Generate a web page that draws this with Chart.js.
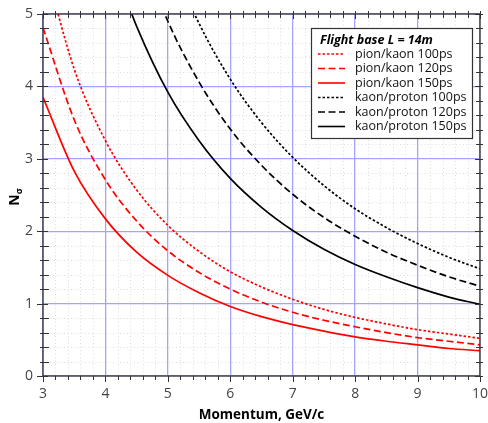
<!DOCTYPE html>
<html>
<head>
<meta charset="utf-8">
<script src="https://cdn.jsdelivr.net/npm/chart.js@4.4.0/dist/chart.umd.min.js"></script>
<style>
  html, body { margin: 0; padding: 0; background: #fff; }
  #wrap { width: 488px; height: 423px; position: relative; }
</style>
</head>
<body>
<div id="wrap"><canvas id="nsigmaChart"></canvas></div>
<script>
// momentum points (GeV/c)
const momentumPiK = [3, 3.5, 4, 4.5, 5, 5.5, 6, 6.5, 7, 7.5, 8, 8.5, 9, 9.5, 10];
const momentumKP = [4.25, 4.5, 5, 5.5, 6, 6.5, 7, 7.5, 8, 8.5, 9, 9.5, 10];

// N_sigma values, pion/kaon
const piK100 = [5.78, 4.24, 3.25, 2.57, 2.08, 1.72, 1.44, 1.23, 1.06, 0.92, 0.81, 0.72, 0.64, 0.58, 0.52];
const piK120 = [4.81, 3.54, 2.71, 2.14, 1.73, 1.43, 1.20, 1.02, 0.88, 0.77, 0.68, 0.60, 0.53, 0.48, 0.43];
const piK150 = [3.85, 2.83, 2.17, 1.71, 1.39, 1.15, 0.96, 0.82, 0.71, 0.62, 0.54, 0.48, 0.43, 0.38, 0.35];

// N_sigma values, kaon/proton
const kP100 = [8.10, 7.25, 5.88, 4.87, 4.10, 3.50, 3.02, 2.63, 2.31, 2.05, 1.83, 1.64, 1.48];
const kP120 = [6.75, 6.04, 4.90, 4.06, 3.41, 2.91, 2.51, 2.19, 1.93, 1.71, 1.53, 1.37, 1.24];
const kP150 = [5.40, 4.83, 3.92, 3.25, 2.73, 2.33, 2.01, 1.75, 1.54, 1.37, 1.22, 1.09, 0.99];

const seriesLabels = [
  'pion/kaon 100ps', 'pion/kaon 120ps', 'pion/kaon 150ps',
  'kaon/proton 100ps', 'kaon/proton 120ps', 'kaon/proton 150ps'
];
const legendTitle = 'Flight base L = 14m';

const FONT = '"Open Sans", "DejaVu Sans", sans-serif';
const dotted = [2.5, 2];
const dashed = [7, 3.5];
const MINOR = 0.2;

function toPoints(xs, ys) {
  return xs.map((x, i) => ({ x: x, y: ys[i] }));
}

function isMajor(v) {
  return Math.abs(v - Math.round(v)) < 1e-6;
}

// minor step values across a scale's range
function minorValues(scale) {
  const out = [];
  const n = Math.round((scale.max - scale.min) / MINOR);
  for (let k = 0; k <= n; k++) out.push(scale.min + k * MINOR);
  return out;
}

function makeSet(label, xs, ys, color, dash) {
  return {
    label: label,
    data: toPoints(xs, ys),
    borderColor: color,
    borderWidth: 1.7,
    borderDash: dash,
    pointRadius: 0,
    fill: false,
    cubicInterpolationMode: 'monotone'
  };
}

// dotted minor grid, under the major lines
const minorGrid = {
  id: 'minorGrid',
  beforeDraw(chart) {
    const { ctx, chartArea: a, scales } = chart;
    ctx.save();
    ctx.strokeStyle = '#dcdcdc';
    ctx.lineWidth = 1;
    ctx.setLineDash([1, 2.5]);
    minorValues(scales.x).forEach(v => {
      if (isMajor(v)) return;
      const px = Math.round(scales.x.getPixelForValue(v)) + 0.5;
      ctx.beginPath(); ctx.moveTo(px, a.top); ctx.lineTo(px, a.bottom); ctx.stroke();
    });
    minorValues(scales.y).forEach(v => {
      if (isMajor(v)) return;
      const py = Math.round(scales.y.getPixelForValue(v)) + 0.5;
      ctx.beginPath(); ctx.moveTo(a.left, py); ctx.lineTo(a.right, py); ctx.stroke();
    });
    ctx.restore();
  }
};

// frame + tick marks on all four sides
const frameTicks = {
  id: 'frameTicks',
  afterDatasetsDraw(chart) {
    const { ctx, chartArea: a, scales } = chart;
    ctx.save();
    ctx.strokeStyle = '#333';
    ctx.lineWidth = 1.3;
    ctx.strokeRect(a.left, a.top, a.right - a.left, a.bottom - a.top);
    ctx.lineWidth = 1;
    minorValues(scales.x).forEach(v => {
      const px = Math.round(scales.x.getPixelForValue(v)) + 0.5;
      const major = isMajor(v);
      const out = major ? 6 : 4;
      ctx.beginPath();
      ctx.moveTo(px, a.bottom + out); ctx.lineTo(px, a.bottom);
      ctx.moveTo(px, a.top - 3); ctx.lineTo(px, a.top + (major ? 5 : 4));
      ctx.stroke();
    });
    minorValues(scales.y).forEach(v => {
      const py = Math.round(scales.y.getPixelForValue(v)) + 0.5;
      const major = isMajor(v);
      const out = major ? 6 : 3;
      const inn = major ? 5 : 6;
      ctx.beginPath();
      ctx.moveTo(a.left - out, py); ctx.lineTo(a.left + inn, py);
      ctx.moveTo(a.right + 3, py); ctx.lineTo(a.right - (major ? 5 : 4), py);
      ctx.stroke();
    });
    ctx.restore();
  }
};

// legend box inside the plot, top right
const boxLegend = {
  id: 'boxLegend',
  afterDraw(chart) {
    const { ctx, chartArea: a } = chart;
    const right = a.right - 8;
    const left = right - 161;
    const top = a.top + 14;
    const bottom = top + 110;
    ctx.save();
    ctx.fillStyle = '#fff';
    ctx.fillRect(left, top, right - left, bottom - top);
    ctx.strokeStyle = '#333';
    ctx.lineWidth = 1.2;
    ctx.strokeRect(left + 0.5, top + 0.5, right - left, bottom - top);

    ctx.fillStyle = '#000';
    ctx.textBaseline = 'middle';
    ctx.font = 'italic bold 12.5px ' + FONT;
    ctx.fillText(legendTitle, left + 9, top + 12);

    ctx.font = '12.5px ' + FONT;
    chart.data.datasets.forEach((ds, i) => {
      const y = top + 26 + i * 14.5;
      ctx.beginPath();
      ctx.strokeStyle = ds.borderColor;
      ctx.lineWidth = 1.6;
      ctx.setLineDash(ds.borderDash);
      ctx.moveTo(left + 7, y);
      ctx.lineTo(left + 34, y);
      ctx.stroke();
      ctx.setLineDash([]);
      ctx.fillStyle = '#111';
      ctx.fillText(ds.label, left + 44, y);
    });
    ctx.restore();
  }
};

// y-axis title N with subscript sigma
const yTitle = {
  id: 'yTitle',
  afterDraw(chart) {
    const { ctx, chartArea: a } = chart;
    ctx.save();
    ctx.translate(14, (a.top + a.bottom) / 2 + 2);
    ctx.rotate(-Math.PI / 2);
    ctx.fillStyle = '#000';
    ctx.textBaseline = 'alphabetic';
    ctx.font = 'bold 14px ' + FONT;
    const w = ctx.measureText('N').width;
    ctx.fillText('N', -w / 2 - 3, 5);
    ctx.font = 'bold 9px ' + FONT;
    ctx.fillText('\u03c3', w / 2 - 3, 8);
    ctx.restore();
  }
};

new Chart(document.getElementById('nsigmaChart'), {
  type: 'line',
  data: {
    datasets: [
      makeSet(seriesLabels[0], momentumPiK, piK100, '#ff0000', dotted),
      makeSet(seriesLabels[1], momentumPiK, piK120, '#ff0000', dashed),
      makeSet(seriesLabels[2], momentumPiK, piK150, '#ff0000', []),
      makeSet(seriesLabels[3], momentumKP, kP100, '#000000', dotted),
      makeSet(seriesLabels[4], momentumKP, kP120, '#000000', dashed),
      makeSet(seriesLabels[5], momentumKP, kP150, '#000000', [])
    ]
  },
  options: {
    responsive: true,
    maintainAspectRatio: false,
    animation: false,
    layout: { padding: { top: 14, right: 8, left: 0, bottom: 0 } },
    plugins: {
      legend: { display: false },
      tooltip: { enabled: false }
    },
    scales: {
      x: {
        type: 'linear',
        min: 3,
        max: 10,
        afterFit: s => { s.height = 47; s.paddingLeft = 0; s.paddingRight = 0; },
        ticks: {
          stepSize: 1,
          maxRotation: 0,
          padding: 10,
          color: '#444',
          font: { family: FONT, size: 14 }
        },
        grid: { drawTicks: false, color: '#a4a4ff', lineWidth: 1.3 },
        border: { display: false },
        title: {
          display: true,
          text: 'Momentum, GeV/c',
          color: '#000',
          font: { family: FONT, size: 13.5, weight: 'bold' },
          padding: 0
        }
      },
      y: {
        type: 'linear',
        min: 0,
        max: 5,
        afterFit: s => { s.width = 43; s.paddingTop = 0; s.paddingBottom = 0; },
        ticks: {
          stepSize: 1,
          padding: 10,
          color: '#444',
          font: { family: FONT, size: 14 }
        },
        grid: { drawTicks: false, color: '#a4a4ff', lineWidth: 1.3 },
        border: { display: false }
      }
    }
  },
  plugins: [minorGrid, frameTicks, boxLegend, yTitle]
});
</script>
</body>
</html>
